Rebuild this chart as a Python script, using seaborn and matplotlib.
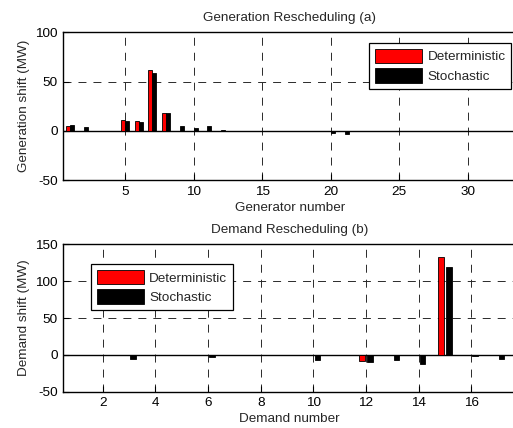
import numpy as np
import pandas as pd
import matplotlib
matplotlib.use("Agg")
import matplotlib.pyplot as plt
import seaborn as sns

# ---- data ----
gen_numbers = list(range(1, 34))
gen_det = [5, 0, 0, 0, 11, 10, 62, 18, 0, 0, 0, 0, 0, 0, 0, 0, 0, 0, 0, 0,
           0, 0, 0, 0, 0, 0, 0, 0, 0, 0, 0, 0, 0]
gen_sto = [6, 4, 0, 0, 10, 9, 59, 18, 5, 3, 5, 1, 0, 0, 0, 0, 0, 0, 0, -2,
           -3, 0, 0, 0, 0, 0, 0, 0, 0, 0, 0, 0, 0]

dem_numbers = list(range(1, 18))
dem_det = [0, 0, 0, 0, 0, 0, 0, 0, 0, 0, 0, -9, 0, 0, 133, 0, 0]
dem_sto = [0, 0, -5, 0, 0, -3, 0, 0, 0, -7, 0, -10, -7, -12, 119, -2, -5]

series_names = ["Deterministic", "Stochastic"]
gen_xticks = [5, 10, 15, 20, 25, 30]
gen_yticks = [-50, 0, 50, 100]
dem_xticks = [2, 4, 6, 8, 10, 12, 14, 16]
dem_yticks = [-50, 0, 50, 100, 150]

sns.set_style("white")
plt.rcParams['font.family'] = ['Liberation Sans', 'DejaVu Sans']
FS = 9.7

gen_df = pd.DataFrame({
    "x": gen_numbers * 2,
    "y": gen_det + gen_sto,
    "series": [series_names[0]] * len(gen_numbers) + [series_names[1]] * len(gen_numbers),
})
dem_df = pd.DataFrame({
    "x": dem_numbers * 2,
    "y": dem_det + dem_sto,
    "series": [series_names[0]] * len(dem_numbers) + [series_names[1]] * len(dem_numbers),
})

fig = plt.figure(figsize=(5.13, 4.28), dpi=100)
ax1 = fig.add_axes([0.1234, 0.5794, 0.8825, 0.3451])
ax2 = fig.add_axes([0.1234, 0.0848, 0.8825, 0.3444])

palette = {"Deterministic": "#ff0000", "Stochastic": "#000000"}


def style_axes(ax, xticks, yticks, xlim, ylim, xlabel, ylabel, title):
    ax.set_axisbelow(True)
    ax.set_xlim(*xlim)
    ax.set_ylim(*ylim)
    ax.set_xticks(xticks)
    ax.set_yticks(yticks)
    ax.set_xticklabels([str(t) for t in xticks], fontsize=FS)
    ax.set_yticklabels([str(t) for t in yticks], fontsize=FS)
    ax.tick_params(direction='in', length=4, width=0.8, colors='black',
                   top=False, right=False, bottom=True, left=True, pad=4)
    ax.grid(True, linestyle=(0, (8.2, 7.2)), color='#2a2a2a', linewidth=0.7)
    for s in ax.spines.values():
        s.set_color('black')
        s.set_linewidth(1.0)
    ax.axhline(0, color='black', linewidth=1.0, zorder=1.5)
    ax.set_xlabel(xlabel, fontsize=FS, labelpad=3)
    ax.set_ylabel(ylabel, fontsize=FS, labelpad=4)
    ax.set_title(title, fontsize=FS, pad=8)


sns.barplot(data=gen_df, x="x", y="y", hue="series", native_scale=True,
            width=0.58, palette=palette, saturation=1, edgecolor='black',
            linewidth=0.6, errorbar=None, ax=ax1, zorder=3)
sns.barplot(data=dem_df, x="x", y="y", hue="series", native_scale=True,
            width=0.6, gap=0.3, palette=palette, saturation=1, edgecolor='black',
            linewidth=0.6, errorbar=None, ax=ax2, zorder=3)

style_axes(ax1, gen_xticks, gen_yticks, (0.5, 33.5), (-50, 100),
           "Generator number", "Generation shift (MW)", "Generation Rescheduling (a)")
style_axes(ax2, dem_xticks, dem_yticks, (0.5, 17.7), (-50, 150),
           "Demand number", "Demand shift (MW)", "Demand Rescheduling (b)")


def make_legend(ax, loc, anchor):
    h, l = ax.get_legend_handles_labels()
    if ax.get_legend() is not None:
        ax.get_legend().remove()
    leg = ax.legend(h, l, loc=loc, bbox_to_anchor=anchor, borderaxespad=0,
                    fontsize=FS, frameon=True, fancybox=False, framealpha=1,
                    edgecolor='black', handlelength=3.5, handleheight=1.3,
                    handletextpad=0.4, labelspacing=0.35, borderpad=0.42)
    leg.get_frame().set_linewidth(0.9)
    leg.set_zorder(10)


make_legend(ax1, "upper right", (0.989, 0.928))
make_legend(ax2, "upper left", (0.061, 0.866))

fig.savefig("out.png", dpi=100)
